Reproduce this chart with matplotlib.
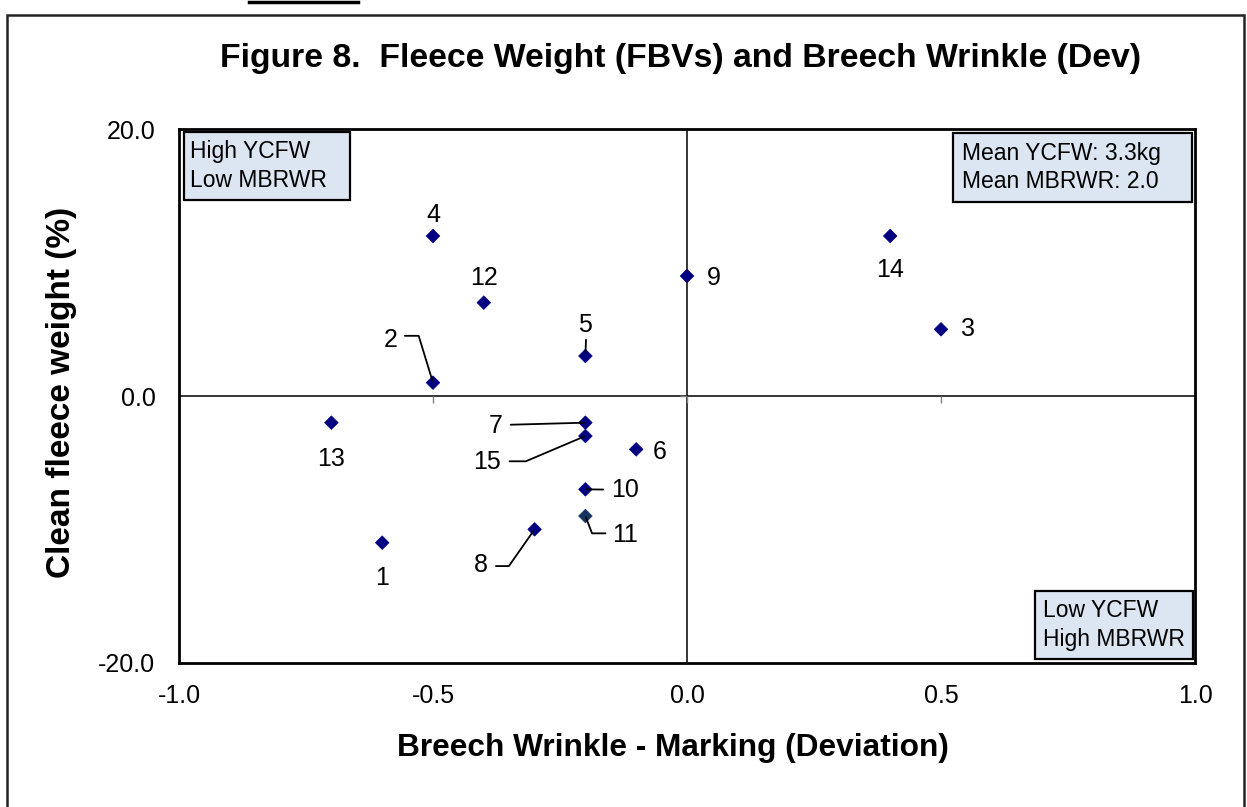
import matplotlib
matplotlib.use('Agg')
import matplotlib.pyplot as plt
import matplotlib.markers as mmarkers
from matplotlib.patches import Rectangle
from matplotlib.lines import Line2D

plt.rcParams['font.family'] = ['Liberation Sans', 'DejaVu Sans']

# ---------------- data ----------------
sire_ids = ['1', '2', '3', '4', '5', '6', '7', '8', '9', '10', '11', '12', '13', '14', '15']
wrinkle_dev = [-0.6, -0.5, 0.5, -0.5, -0.2, -0.1, -0.2, -0.3, 0.0, -0.2, -0.2, -0.4, -0.7, 0.4, -0.2]
fleece_weight = [-11, 1, 5, 12, 3, -4, -2, -10, 9, -7, -9, 7, -2, 12, -3]
x_ticks = [-1.0, -0.5, 0.0, 0.5, 1.0]
y_ticks = [-20.0, 0.0, 20.0]

title = 'Figure 8.  Fleece Weight (FBVs) and Breech Wrinkle (Dev)'
x_label = 'Breech Wrinkle - Marking (Deviation)'
y_label = 'Clean fleece weight (%)'
box_top_left = 'High YCFW\nLow MBRWR'
box_top_right = 'Mean YCFW: 3.3kg\nMean MBRWR: 2.0'
box_bottom_right = 'Low YCFW\nHigh MBRWR'

# ---------------- layout / style ----------------
W, H = 1247, 807
MARKER_COLOR = '#000080'
special_colors = {'11': '#15335E'}
# label offsets (pixels, y up) and optional leader lines
label_layout = {
    '1': dict(off=(0, -35)),
    '2': dict(off=(-42, 43), rel=(1, 0.66), cs='angle,angleA=0,angleB=-73,rad=0', sA=5, sB=2),
    '3': dict(off=(27, 0)),
    '4': dict(off=(0, 21)),
    '5': dict(off=(0, 31), rel=(0.55, 0), cs='arc3', sA=2, sB=3),
    '6': dict(off=(23, -3)),
    '7': dict(off=(-90, -3), rel=(1, 0.53), cs='arc3', sA=6, sB=1),
    '8': dict(off=(-54, -36), rel=(1, 0.47), cs='angle,angleA=0,angleB=55,rad=0', sA=6, sB=2),
    '9': dict(off=(27, -2)),
    '10': dict(off=(40, -1), rel=(0, 0.53), cs='arc3', sA=6, sB=1),
    '11': dict(off=(40, -19), rel=(0, 0.57), cs='angle,angleA=0,angleB=-69,rad=0', sA=5, sB=1),
    '12': dict(off=(0, 25)),
    '13': dict(off=(0, -36)),
    '14': dict(off=(0, -34)),
    '15': dict(off=(-98, -26), rel=(1, 0.53), cs='angle,angleA=0,angleB=23,rad=0', sA=6, sB=1),
}

fig = plt.figure(figsize=(W / 100, H / 100), dpi=100)
ax_l, ax_r, ax_t, ax_b = 179, 1195, 129.3, 662.7
ax = fig.add_axes([ax_l / W, 1 - ax_b / H, (ax_r - ax_l) / W, (ax_b - ax_t) / H])

ax.set_xlim(x_ticks[0], x_ticks[-1])
ax.set_ylim(y_ticks[0], y_ticks[-1])
ax.set_xticks(x_ticks)
ax.set_xticklabels([f'{v:.1f}' for v in x_ticks])
ax.set_yticks(y_ticks)
ax.set_yticklabels([f'{v:.1f}' for v in y_ticks])
ax.tick_params(axis='both', length=0, labelsize=18)
ax.tick_params(axis='x', pad=15.5)
ax.tick_params(axis='y', pad=17)
for s in ax.spines.values():
    s.set_linewidth(2)
    s.set_color('black')

# centre axes with tick marks
ax.axhline(0, color='black', lw=1.1, zorder=1)
ax.axvline(0, color='black', lw=1.1, zorder=1)
ax.plot(x_ticks, [0] * len(x_ticks), ls='none', marker=mmarkers.TICKDOWN, ms=5,
        mew=1, color='#808080', zorder=1, clip_on=False)
ax.plot([0] * len(y_ticks), y_ticks, ls='none', marker=mmarkers.TICKLEFT, ms=5,
        mew=1, color='#808080', zorder=1, clip_on=False)

colors = [special_colors.get(s, MARKER_COLOR) for s in sire_ids]
ax.scatter(wrinkle_dev, fleece_weight, marker='D', s=48, c=colors,
           edgecolors=colors, linewidths=0.5, zorder=3)

for sid, xv, yv in zip(sire_ids, wrinkle_dev, fleece_weight):
    lay = label_layout[sid]
    kw = {}
    if 'cs' in lay:
        kw['arrowprops'] = dict(arrowstyle='-', color='black', lw=1.3,
                                connectionstyle=lay['cs'], relpos=lay['rel'],
                                patchA=None, shrinkA=lay['sA'], shrinkB=lay['sB'])
    ax.annotate(sid, xy=(xv, yv), xytext=lay['off'], textcoords='offset pixels',
                ha='center', va='center', fontsize=18, color='black', zorder=4, **kw)

# quadrant boxes (axes fraction)
def quad_box(x0, y0, w, h, tx, ty, txt):
    ax.add_patch(Rectangle((x0, y0), w, h, transform=ax.transAxes, facecolor='#DCE6F2',
                           edgecolor='black', lw=1.6, zorder=5))
    ax.text(tx, ty, txt, transform=ax.transAxes, ha='left', va='center', fontsize=16.5,
            linespacing=1.3, zorder=6)

quad_box(0.0049, 0.8675, 0.1634, 0.1275, 0.0108, 0.9312, box_top_left)
quad_box(0.7618, 0.8637, 0.2352, 0.1294, 0.7707, 0.9284, box_top_right)
quad_box(0.8425, 0.0069, 0.1555, 0.1275, 0.8504, 0.0707, box_bottom_right)

# titles
fig.text(680 / W, 1 - 58 / H, title, ha='center', va='center', fontsize=24.3, weight='bold')
fig.text(673 / W, 1 - 748 / H, x_label, ha='center', va='center', fontsize=22.8, weight='bold')
fig.text(62 / W, 1 - 392.5 / H, y_label, ha='center', va='center', fontsize=24,
         weight='bold', rotation=90)

# outer frame of the chart object and cut-off remnant at top
fig.add_artist(Rectangle((7 / W, -0.05), (1244 - 7) / W, 1 - 15 / H + 0.05,
                         transform=fig.transFigure, fill=False, lw=1.8, edgecolor='#222222'))
fig.add_artist(Line2D([249 / W, 358 / W], [1 - 2 / H, 1 - 2 / H], lw=2.5, color='black',
                      transform=fig.transFigure))

fig.savefig('out.png', dpi=100)
